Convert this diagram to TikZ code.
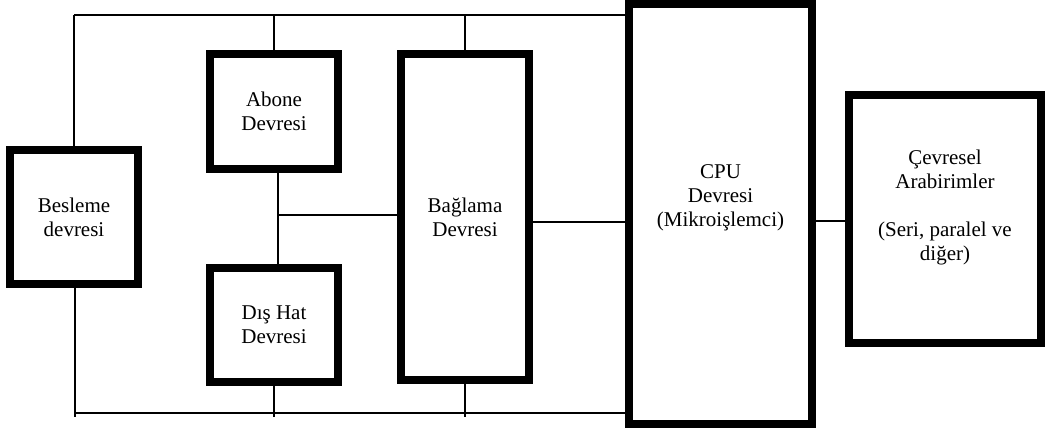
\documentclass[tikz,border=0pt]{standalone}
\usepackage{fontspec}
\setmainfont{Liberation Serif}
\begin{document}
\begin{tikzpicture}[x=1pt,y=-1pt,
  blk/.style={draw=black,line width=8pt,fill=white,inner sep=0pt,outer sep=0pt,align=center,
    font=\fontsize{21}{24}\selectfont},
  lbl/.style={inner sep=0pt,align=center,font=\fontsize{21}{24}\selectfont},
  wire/.style={draw=black,line width=1.7pt}]
\useasboundingbox (0,0) rectangle (1045,432);
% boxes (centre lines of the thick borders)
\node[blk,minimum width=128pt,minimum height=134pt] (bes) at (74,217) {Besleme\\devresi};
\node[blk,minimum width=128pt,minimum height=115pt] (abo) at (274,111.5) {Abone\\Devresi};
\node[blk,minimum width=128pt,minimum height=114pt] (dis) at (274,325) {Dış Hat\\Devresi};
\node[blk,minimum width=128pt,minimum height=326pt] (bag) at (465,217) {Bağlama\\Devresi};
\node[blk,minimum width=183pt,minimum height=420pt] (cpu) at (720.5,214) {};
\node[lbl] (cput) at (720.5,198) {CPU\\Devresi\\(Mikroişlemci)};
\node[blk,minimum width=192pt,minimum height=248pt] (cev) at (945,219) {};
\node[lbl] (cevt) at (945,207) {Çevresel\\Arabirimler\\[24pt](Seri, paralel ve\\diğer)};
% bus coordinates
\coordinate (tl) at (74,15);
\coordinate (bl) at (75,413);
\coordinate (jn) at (278,215);
\coordinate (bagout) at (529,222);
\coordinate (cevin) at (812,221);
% top bus
\draw[wire] (tl) -- (cpu.west |- tl);
\draw[wire] (tl) -- (bes.north);
\draw[wire] (abo.north |- tl) -- (abo.north);
\draw[wire] (bag.north |- tl) -- (bag.north);
% abone - dis hat with junction to baglama
\draw[wire] ([xshift=4pt]abo.south) -- ([xshift=4pt]dis.north);
\draw[wire] (jn) -- (bag.west |- jn);
% bottom bus
\draw[wire] (bes.south -| bl) -- ([yshift=-4pt]bl);
\draw[wire] (bl) -- (cpu.west |- bl);
\draw[wire] (dis.south) -- ([yshift=-4pt]dis.south |- bl);
\draw[wire] (bag.south) -- ([yshift=-4pt]bag.south |- bl);
% baglama - cpu, cpu - cevresel
\draw[wire] (bagout) -- (cpu.west |- bagout);
\draw[wire] (cpu.east |- cevin) -- (cev.west |- cevin);
\end{tikzpicture}
\end{document}
